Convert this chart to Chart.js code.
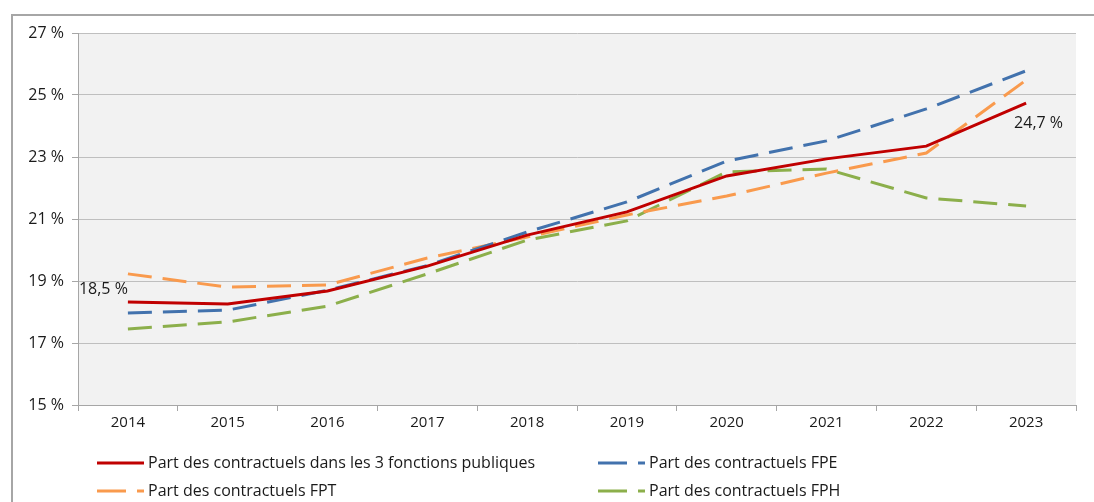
<!DOCTYPE html>
<html>
<head>
<meta charset="utf-8">
<script src="https://cdn.jsdelivr.net/npm/chart.js@4/dist/chart.umd.min.js"></script>
<style>
  body { margin: 0; background: #fff; }
  #frame { position: absolute; left: 11px; top: 14px; width: 1100px; height: 500px; border-left: 2px solid #a6a6a6; border-top: 2px solid #a6a6a6; }
  #chart { position: absolute; left: 0; top: 0; }
</style>
</head>
<body>
<div id="frame"></div>
<canvas id="chart" width="1094" height="502"></canvas>
<script>
// values
const years = ['2014', '2015', '2016', '2017', '2018', '2019', '2020', '2021', '2022', '2023'];
const partTotal = [18.32, 18.26, 18.68, 19.48, 20.48, 21.23, 22.39, 22.94, 23.35, 24.74];
const partFPE = [17.97, 18.06, 18.7, 19.5, 20.58, 21.55, 22.87, 23.52, 24.55, 25.78];
const partFPT = [19.23, 18.8, 18.87, 19.74, 20.42, 21.13, 21.74, 22.48, 23.13, 25.48];
const partFPH = [17.45, 17.68, 18.19, 19.23, 20.32, 20.94, 22.52, 22.61, 21.68, 21.42];
const firstLabel = '18,5 %';
const lastLabel = '24,7 %';
const yTicks = [15, 17, 19, 21, 23, 25, 27];

const FONT = '"Open Sans"';

const plotBg = {
  id: 'plotBg',
  beforeDraw(chart) {
    const { ctx, chartArea: a } = chart;
    ctx.save();
    ctx.fillStyle = '#f2f2f2';
    ctx.fillRect(a.left, a.top, a.right - a.left, a.bottom - a.top);
    ctx.restore();
  }
};

const extras = {
  id: 'extras',
  afterDraw(chart) {
    const ctx = chart.ctx;
    ctx.save();
    // value labels on the red line
    const pts = chart.getDatasetMeta(0).data;
    ctx.font = '16px ' + FONT;
    ctx.fillStyle = '#1a1a1a';
    ctx.textBaseline = 'middle';
    ctx.textAlign = 'right';
    ctx.fillText(firstLabel, pts[0].x, pts[0].y - 13);
    ctx.textAlign = 'left';
    ctx.fillText(lastLabel, pts[pts.length - 1].x - 12, pts[pts.length - 1].y + 20);

    // legend, two columns
    const spots = [[97, 463], [598, 463], [97, 491], [598, 491]];
    chart.data.datasets.forEach((ds, i) => {
      const [x, y] = spots[i];
      ctx.strokeStyle = ds.borderColor;
      ctx.lineWidth = 3;
      ctx.setLineDash(ds.borderDash ? [29, 11] : []);
      ctx.beginPath();
      ctx.moveTo(x, y);
      ctx.lineTo(x + 47, y);
      ctx.stroke();
      ctx.setLineDash([]);
      ctx.fillStyle = '#1a1a1a';
      ctx.textAlign = 'left';
      ctx.fillText(ds.label, x + 51, y);
    });
    ctx.restore();
  }
};

new Chart(document.getElementById('chart'), {
  type: 'line',
  data: {
    labels: years,
    datasets: [
      { label: 'Part des contractuels dans les 3 fonctions publiques', data: partTotal, borderColor: '#c00000', borderWidth: 3 },
      { label: 'Part des contractuels FPE', data: partFPE, borderColor: '#4272ad', borderWidth: 3, borderDash: [24, 11] },
      { label: 'Part des contractuels FPT', data: partFPT, borderColor: '#f99a4d', borderWidth: 3, borderDash: [24, 11] },
      { label: 'Part des contractuels FPH', data: partFPH, borderColor: '#8caf4b', borderWidth: 3, borderDash: [24, 11] }
    ]
  },
  options: {
    responsive: false,
    animation: false,
    devicePixelRatio: 1,
    layout: { padding: { left: 0, right: 18, top: 33, bottom: 0 } },
    elements: { point: { radius: 0 }, line: { tension: 0, borderCapStyle: 'butt' } },
    plugins: { legend: { display: false }, tooltip: { enabled: false } },
    scales: {
      x: {
        offset: true,
        grid: { offset: true, drawOnChartArea: false, drawTicks: true, tickLength: 6, color: '#a6a6a6' },
        border: { color: '#a6a6a6' },
        ticks: { color: '#1a1a1a', font: { family: FONT, size: 15 }, padding: 3, maxRotation: 0, autoSkip: false },
        afterFit(s) { s.height = 97; }
      },
      y: {
        min: 15, max: 27,
        afterBuildTicks(s) { s.ticks = yTicks.map(v => ({ value: v })); },
        grid: { color: '#bfbfbf', tickLength: 6, tickColor: '#a6a6a6' },
        border: { color: '#a6a6a6' },
        ticks: { color: '#1a1a1a', font: { family: FONT, size: 16 }, padding: 8, callback: v => v + ' %' },
        afterFit(s) { s.width = 78; }
      }
    }
  },
  plugins: [plotBg, extras]
});
</script>
</body>
</html>
